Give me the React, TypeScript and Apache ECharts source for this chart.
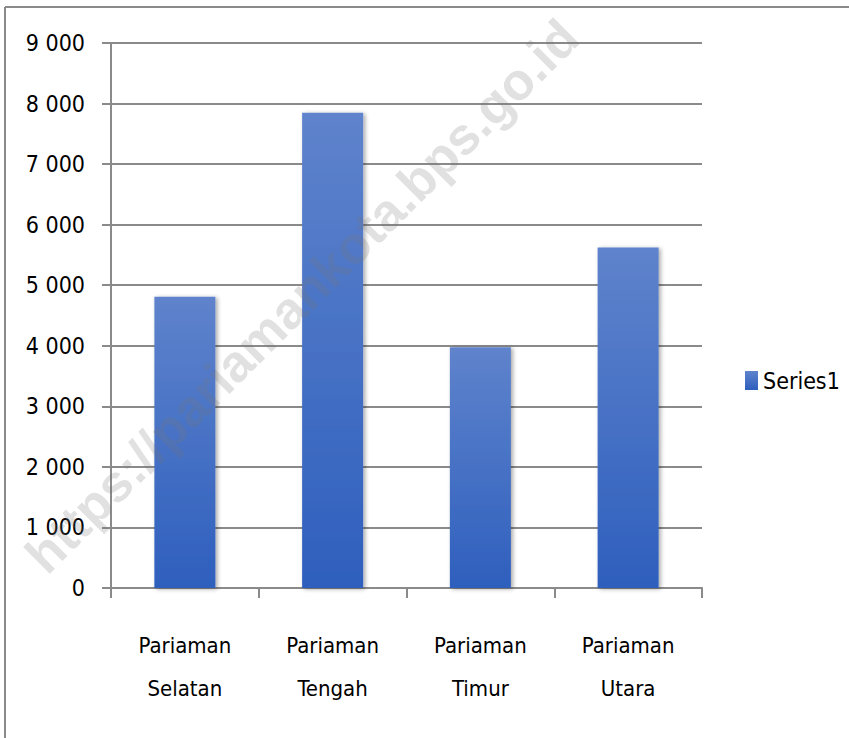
import React, { useEffect, useRef } from "react";
import * as echarts from "echarts";

const categories: string[] = ["Pariaman\nSelatan", "Pariaman\nTengah", "Pariaman\nTimur", "Pariaman\nUtara"];
const series1: number[] = [4810, 7850, 3975, 5625];
const yTicks: number[] = [0, 1000, 2000, 3000, 4000, 5000, 6000, 7000, 8000, 9000];
const seriesName = "Series1";
const watermark = "https://pariamankota.bps.go.id";

const FONT = "'Liberation Sans Narrow', 'DejaVu Sans Condensed', sans-serif";

function fmt(v: number): string {
  const s = String(Math.round(v));
  return s.replace(/\B(?=(\d{3})+(?!\d))/g, " ");
}

export default function App() {
  const ref = useRef<HTMLDivElement>(null);
  useEffect(() => {
    if (!ref.current) return;
    const chart = echarts.init(ref.current, undefined, { renderer: "svg" });
    chart.setOption({
      animation: false,
      backgroundColor: "#ffffff",
      grid: { left: 111, right: 147, top: 43, bottom: 150, containLabel: false },
      legend: {
        data: [seriesName],
        left: 740,
        top: 364,
        itemWidth: 13,
        itemHeight: 19,
        itemGap: 8,
        textStyle: { fontFamily: FONT, fontSize: 23, color: "#000" },
        icon: "rect",
      },
      xAxis: {
        type: "category",
        data: categories,
        axisLine: { show: true, lineStyle: { color: "#8a8a8a", width: 2 } },
        axisTick: { show: true, length: 10, lineStyle: { color: "#8a8a8a", width: 2 } },
        axisLabel: {
          fontFamily: FONT,
          fontSize: 22,
          color: "#000",
          margin: 36,
          lineHeight: 43,
          interval: 0,
        },
      },
      yAxis: {
        type: "value",
        min: yTicks[0],
        max: yTicks[yTicks.length - 1],
        interval: 1000,
        axisLine: { show: true, lineStyle: { color: "#8a8a8a", width: 2 } },
        axisTick: { show: true, length: 9, lineStyle: { color: "#8a8a8a", width: 2 } },
        splitLine: { show: true, lineStyle: { color: "#8a8a8a", width: 2 } },
        axisLabel: {
          fontFamily: FONT,
          fontSize: 23,
          color: "#000",
          margin: 26,
          formatter: (v: number) => fmt(v),
        },
      },
      series: [
        {
          name: seriesName,
          type: "bar",
          data: series1,
          barWidth: 61,
          itemStyle: {
            color: new echarts.graphic.LinearGradient(0, 0, 0, 1, [
              { offset: 0, color: "#5f83cc" },
              { offset: 1, color: "#2e5fbd" },
            ]),
            shadowBlur: 4,
            shadowColor: "rgba(0,0,0,0.35)",
            shadowOffsetX: 2,
            shadowOffsetY: 1,
          },
        },
      ],
      graphic: [
        {
          type: "line",
          shape: { x1: 5, y1: 7, x2: 849, y2: 7 },
          style: { stroke: "#8a8a8a", lineWidth: 2 },
          z: 100,
        },
        {
          type: "line",
          shape: { x1: 5, y1: 7, x2: 5, y2: 738 },
          style: { stroke: "#8a8a8a", lineWidth: 2 },
          z: 100,
        },
        {
          type: "text",
          x: 302,
          y: 296,
          rotation: Math.PI / 4,
          z: 100,
          silent: true,
          style: {
            text: watermark,
            fontFamily: "'Liberation Sans', Arial, sans-serif",
            fontWeight: "bold",
            fontSize: 52,
            fill: "rgba(120,120,120,0.22)",
            textAlign: "center",
            textVerticalAlign: "middle",
          },
        },
      ],
    });
    return () => chart.dispose();
  }, []);
  return (
    <div
      ref={ref}
      style={{ position: "fixed", left: 0, top: 0, width: 849, height: 738 }}
    />
  );
}
